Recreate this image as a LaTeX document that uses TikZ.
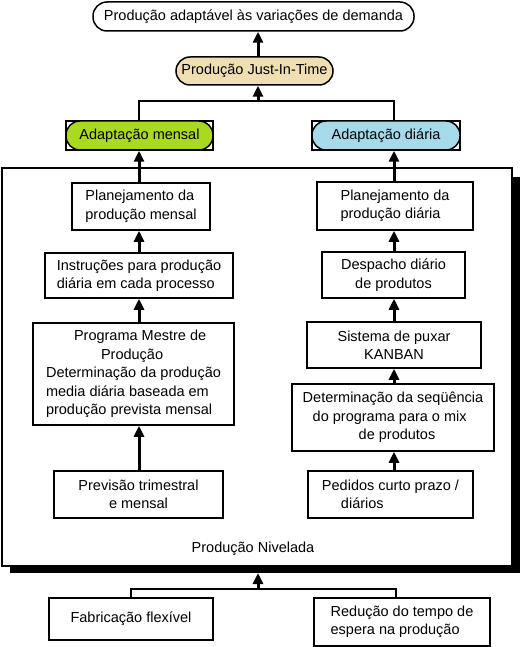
\documentclass[tikz,border=0pt]{standalone}
\usepackage{fontspec}
\setmainfont{Liberation Sans}
\usetikzlibrary{arrows.meta}
\definecolor{verde}{RGB}{170,218,30}
\definecolor{azul}{RGB}{166,218,234}
\definecolor{areia}{RGB}{238,222,178}

\begin{document}
\begin{tikzpicture}[x=1pt,y=-1pt,>={Triangle[width=10pt,length=11pt]},
    font=\fontsize{14.5}{18.5}\selectfont,
    caixa/.style={draw,line width=1.5pt,fill=white,inner sep=0pt,align=left},
    pilula/.style={draw,line width=1.5pt,rounded corners=14pt,inner sep=0pt},
    seta/.style={->,line width=3pt},
    ramo/.style={line width=2pt}]
    \useasboundingbox (0,0) rectangle (521,647);
    \coordinate (eixo) at (258,0);
    \coordinate (colE) at (139,0);
    \coordinate (colD) at (394,0);
    %
    \fill (10,177) rectangle (520,573);
    \draw[fill=white,line width=1.5pt] (2,168) rectangle (512,566);
    \node (nivel) at (253,549) {Produção Nivelada};
    \coordinate (sombra) at (258,573);
    %
    \node[pilula,minimum width=321pt,minimum height=29pt] (topo) at (253.5,16.5) {Produção adaptável às variações de demanda};
    \node[pilula,fill=areia,minimum width=157pt,minimum height=28pt] (jit) at (254.5,71) {Produção Just-In-Time};
    \draw[line width=1.5pt] (66,121) rectangle (213,150);
    \draw[line width=1.5pt] (312,121) rectangle (460,150);
    \node[pilula,fill=verde,minimum width=147pt,minimum height=29pt] (mensal) at (139.5,135.5) {Adaptação mensal};
    \node[pilula,fill=azul,minimum width=148pt,minimum height=29pt] (diaria) at (386,135.5) {Adaptação diária};
    %
    \node[caixa,minimum width=138pt,minimum height=47pt] (pm) at (141,206.5) {Planejamento da\\produção mensal};
    \node[caixa,minimum width=188pt,minimum height=45pt] (inst) at (139,275.5) {Instruções para produção\\diária em cada processo};
    \node[caixa,minimum width=201pt,minimum height=102pt] (pms) at (133.5,374) {\hspace*{28pt}Programa Mestre de\\\hspace*{55pt}Produção\\Determinação da produção\\media diária baseada em\\produção prevista mensal};
    \node[caixa,align=center,minimum width=169pt,minimum height=47pt] (prev) at (138.5,494.5) {Previsão trimestral\\e mensal};
    %
    \node[caixa,minimum width=156pt,minimum height=48pt] (pd) at (395,206) {Planejamento da\\produção diária};
    \node[caixa,align=center,minimum width=143pt,minimum height=46pt] (desp) at (393.5,275) {Despacho diário\\de produtos};
    \node[caixa,align=center,minimum width=174pt,minimum height=46pt] (kanban) at (394,345) {Sistema de puxar\\KANBAN};
    \node[caixa,minimum width=202pt,minimum height=67pt] (seq) at (393,417.5) {Determinação da seqüência\\\hspace*{10pt}do programa para o mix\\\hspace*{56pt}de produtos};
    \node[caixa,minimum width=165pt,minimum height=47pt] (ped) at (390.5,494.5) {Pedidos curto prazo /\\\hspace*{19pt}diários};
    %
    \node[caixa,minimum width=164pt,minimum height=42pt] (fab) at (131,619) {Fabricação flexível};
    \node[caixa,minimum width=176pt,minimum height=48pt] (red) at (402,622) {Redução do tempo de\\espera na produção};
    %
    \draw[seta] (jit.north -| eixo) -- (topo.south -| eixo);
    \coordinate (ramo1) at (258,101);
    \draw[ramo] (mensal.north -| colE) |- (ramo1) -| (diaria.north -| colD);
    \draw[seta] (ramo1) -- (jit.south -| eixo);
    %
    \draw[seta] (pm.north -| colE) -- (mensal.south -| colE);
    \draw[seta] (inst.north -| colE) -- (pm.south -| colE);
    \draw[seta] (pms.north -| colE) -- (inst.south -| colE);
    \draw[seta] (prev.north -| colE) -- (pms.south -| colE);
    %
    \draw[seta] (pd.north -| colD) -- (diaria.south -| colD);
    \draw[seta] (desp.north -| colD) -- (pd.south -| colD);
    \draw[seta] (kanban.north -| colD) -- (desp.south -| colD);
    \draw[seta] (seq.north -| colD) -- (kanban.south -| colD);
    \draw[seta] (ped.north -| colD) -- (seq.south -| colD);
    %
    \coordinate (ramo2) at (258,589);
    \draw[ramo] (fab.north) |- (ramo2) -| ([xshift=-6pt]red.north);
    \draw[seta] (ramo2) -- (sombra);
\end{tikzpicture}
\end{document}
